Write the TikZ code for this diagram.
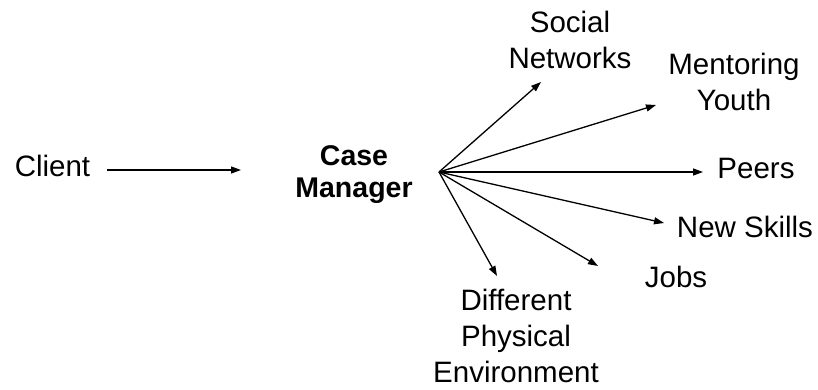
\documentclass[tikz,border=0pt]{standalone}
\usepackage{fontspec}
\setmainfont{Liberation Sans}
\usetikzlibrary{arrows.meta}
\tikzset{
  lbl/.style={inner sep=0pt, align=center, font=\fontsize{29.5}{36}\selectfont, anchor=base},
  boldlbl/.style={inner sep=0pt, align=center, font=\fontsize{28.5}{32}\selectfont\bfseries, anchor=base},
  arr/.style={line width=1.3pt, -{Triangle[length=10pt,width=7pt]}}
}
\begin{document}
\begin{tikzpicture}[x=1pt,y=-1pt]
\useasboundingbox (0,0) rectangle (818,389);
\node[lbl] (client) at (52.5,176) {Client};
\node[boldlbl] (cm) at (354,197) {Case\\Manager};
\node[lbl] (social) at (570,68) {Social\\Networks};
\node[lbl] (mentor) at (734,110) {Mentoring\\Youth};
\node[lbl] (peers) at (756,178) {Peers};
\node[lbl] (skills) at (745,237) {New Skills};
\node[lbl] (jobs) at (676,287) {Jobs};
\node[lbl] (env) at (516,382) {Different\\Physical\\Environment};
\coordinate (cstart) at (107,170);
\coordinate (cend) at (241,170);
\coordinate (hub) at (439,172);
\coordinate (tsocial) at (541,82);
\coordinate (tmentor) at (656,105);
\coordinate (tpeers) at (703,172);
\coordinate (tskills) at (664,223);
\coordinate (tjobs) at (598,266);
\coordinate (tenv) at (497,276);
\draw[arr] (cstart) -- (cend);
\draw[arr] (hub) -- (tsocial);
\draw[arr] (hub) -- (tmentor);
\draw[arr] (hub) -- (tpeers);
\draw[arr] (hub) -- (tskills);
\draw[arr] (hub) -- (tjobs);
\draw[arr] (hub) -- (tenv);
\end{tikzpicture}
\end{document}
